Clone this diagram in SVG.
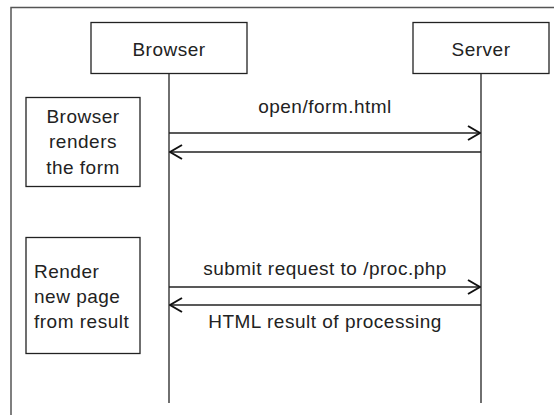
<svg xmlns="http://www.w3.org/2000/svg" width="554" height="415" viewBox="0 0 554 415">
<defs>
<style>
.box{fill:#fff;stroke:#222;stroke-width:1.3}
.ln{stroke:#222;stroke-width:1.3;fill:none}
.frame{stroke:#555;stroke-width:1.5;fill:none}
text{font-family:"Liberation Sans",Arial,sans-serif;font-size:19px;letter-spacing:0.5px;fill:#222}
.c{text-anchor:middle}
</style>
<marker id="ah" viewBox="0 0 14 16" refX="13" refY="8" markerWidth="14" markerHeight="16" markerUnits="userSpaceOnUse" orient="auto">
<path d="M1,1 L13,8 L1,15" fill="none" stroke="#111" stroke-width="2"/>
</marker>
</defs>
<rect width="554" height="415" fill="#fff"/>
<g id="frame">
<path class="frame" d="M11,415 V7.5 H554"/>
</g>
<g id="lifelines">
<line class="ln" x1="169" y1="73" x2="169" y2="403"/>
<line class="ln" x1="481" y1="73" x2="481" y2="403"/>
</g>
<g id="browser">
<rect class="box" x="91" y="22.5" width="156" height="51"/>
<text class="c" x="169" y="56">Browser</text>
</g>
<g id="server">
<rect class="box" x="413" y="22.5" width="136" height="51"/>
<text class="c" x="481" y="56">Server</text>
</g>
<g id="note1">
<rect class="box" x="26" y="97.5" width="114" height="89"/>
<text class="c" x="83" y="123">Browser</text>
<text class="c" x="83" y="148">renders</text>
<text class="c" x="83" y="174">the form</text>
</g>
<g id="note2">
<rect class="box" x="26" y="237.5" width="114" height="116"/>
<text x="34" y="278">Render</text>
<text x="34" y="303">new page</text>
<text x="34" y="328">from result</text>
</g>
<g id="connectors">
<line class="ln" x1="169" y1="133" x2="480" y2="133" marker-end="url(#ah)"/>
<line class="ln" x1="481" y1="152" x2="170" y2="152" marker-end="url(#ah)"/>
<line class="ln" x1="169" y1="287" x2="480" y2="287" marker-end="url(#ah)"/>
<line class="ln" x1="481" y1="305" x2="170" y2="305" marker-end="url(#ah)"/>
<text class="c" x="325" y="113">open/form.html</text>
<text class="c" x="325" y="275">submit request to /proc.php</text>
<text class="c" x="325" y="328">HTML result of processing</text>
</g>
</svg>
